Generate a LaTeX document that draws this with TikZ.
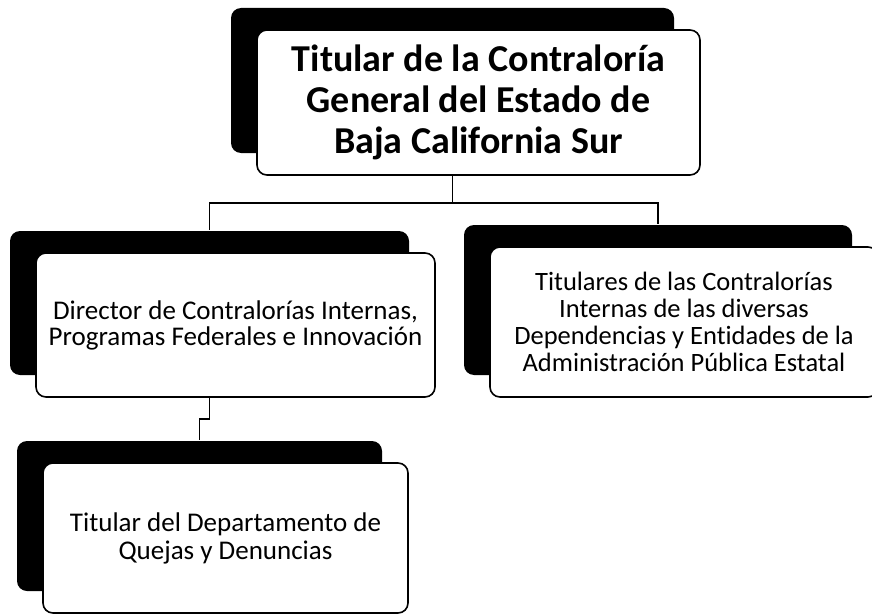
\documentclass[tikz,border=0pt]{standalone}
\usepackage{fontspec}
\setmainfont{Carlito}[Ligatures=CommonOff]
\usetikzlibrary{shadows}

\tikzset{
  orgbox/.style={draw, line width=1.6pt, rounded corners=10pt, fill=white,
    align=center, inner sep=4pt,
    drop shadow={shadow xshift=-26pt, shadow yshift=22pt, fill=black, opacity=1}},
  conn/.style={line width=1.8pt}
}

\begin{document}
\begin{tikzpicture}[x=1pt, y=-1pt]
\clip (0,0) rectangle (872,615);
\fill[white] (0,0) rectangle (872,615);
% Boxes (white face; the black shadow sits up and to the left)
\node[orgbox, minimum width=443pt, minimum height=145pt,
  font=\fontsize{38}{41}\selectfont\bfseries] (titular) at (478.5,102.5)
  {Titular de la Contraloría\\General del Estado de\\Baja California Sur};
\node[orgbox, minimum width=399pt, minimum height=144pt,
  font=\fontsize{27}{26}\selectfont] (director) at (235.5,325)
  {Director de Contralorías Internas,\\Programas Federales e Innovación};
\node[orgbox, minimum width=388pt, minimum height=150pt,
  font=\fontsize{26.5}{27}\selectfont] (titulares) at (684,322)
  {Titulares de las Contralorías\\Internas de las diversas\\Dependencias y Entidades de la\\Administración Pública Estatal};
\node[orgbox, minimum width=365pt, minimum height=150pt,
  font=\fontsize{27}{28}\selectfont] (quejas) at (225.5,538)
  {Titular del Departamento de\\Quejas y Denuncias};
% Connector ends, on the shadow centres
\coordinate (tbot) at ([xshift=-26pt]titular.south);
\coordinate (dtop) at ([xshift=-26pt, yshift=22pt]director.north);
\coordinate (rtop) at ([xshift=-26pt, yshift=22pt]titulares.north);
\coordinate (dbot) at ([xshift=-26pt]director.south);
\coordinate (qtop) at ([xshift=-26pt, yshift=22pt]quejas.north);
% Connectors
\draw[conn] (tbot) -- ++(0,27) -| (dtop);
\draw[conn] (tbot) ++(0,27) -| (rtop);
\draw[conn] (dbot) -- ++(0,21) -| (qtop);
\end{tikzpicture}
\end{document}
